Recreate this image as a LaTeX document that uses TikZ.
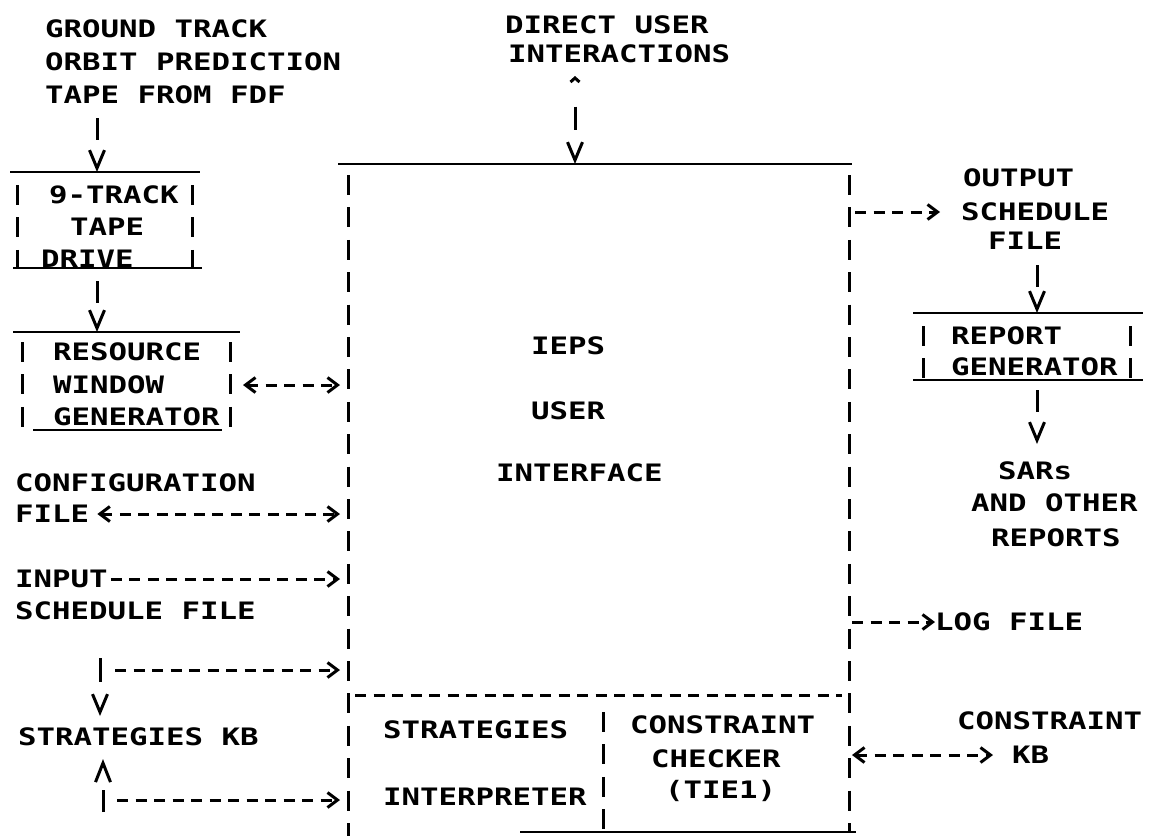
\documentclass[tikz,border=0pt]{standalone}
\usepackage{fontspec}
\newfontfamily\typerfont{DejaVu Sans Mono}[FakeStretch=1.28]
\usetikzlibrary{arrows.meta}

\tikzset{
  lbl/.style={anchor=west, inner sep=0pt, text height=17.5pt, text depth=0pt,
    font=\typerfont\bfseries\fontsize{24}{24}\selectfont},
  rule/.style={line width=2.4pt},
  vside/.style={line width=3pt, dash pattern=on 20pt off 12.4pt},
  hdash/.style={line width=3pt, dash pattern=on 11pt off 7.5pt},
  hto/.style={hdash, -{Straight Barb[length=10pt,width=15pt]}},
  hboth/.style={hdash, {Straight Barb[length=10pt,width=15pt]}-{Straight Barb[length=10pt,width=15pt]}},
  vflow/.style={line width=3pt, dash pattern=on 22pt off 200pt,
    -{Straight Barb[length=18pt,width=15pt]}},
}

\begin{document}
\begin{tikzpicture}[x=1pt,y=-1pt]
  \useasboundingbox (0,0) rectangle (1151,836);

  % main user interface box
  \coordinate (mw) at (340,0);
  \coordinate (me) at (852,0);
  \draw[rule] (338,164) -- (852,164);
  \draw[vside] (348,175) -- (348,836);
  \draw[vside] (849,175) -- (849,832);
  \draw[hdash] (355,695) -- (842,695);
  \draw[vside] (603,712) -- (603,832);
  \draw[rule] (520,832) -- (856,832);
  \node[lbl] (ieps) at (531,346) {IEPS};
  \node[lbl] (user) at (531,411) {USER};
  \node[lbl] (iface) at (496,473) {INTERFACE};
  \node[lbl] (strat) at (383,730) {STRATEGIES};
  \node[lbl] (interp) at (383,797) {INTERPRETER};
  \node[lbl] (cons) at (630,725) {CONSTRAINT};
  \node[lbl] (checker) at (651,759) {CHECKER};
  \node[lbl] (tie) at (665,790) {(TIE1)};

  \node[lbl] (direct) at (505,25) {DIRECT USER};
  \node[lbl] (interact) at (508,54) {INTERACTIONS};
  \coordinate (uin) at (575,76);
  \draw[line width=3pt, dash pattern=on 0pt off 27pt on 23pt off 200pt,
    {Straight Barb[length=4pt,width=9pt]}-{Straight Barb[length=18pt,width=15pt]}]
    (uin) -- (uin |- 0,164);

  % tape drive
  \node[lbl] (gtrack) at (45,29) {GROUND TRACK};
  \node[lbl] (orbit) at (45,62) {ORBIT PREDICTION};
  \node[lbl] (fdf) at (45,95) {TAPE FROM FDF};
  \coordinate (tapein) at (97,118);
  \draw[vflow] (tapein) -- (tapein |- 0,172);
  \draw[rule] (10,172) -- (200,172);
  \draw[vside] (17,185) -- (17,268);
  \draw[vside] (192,185) -- (192,268);
  \draw[rule] (13,268) -- (202,268);
  \node[lbl] (trk) at (49,195) {9-TRACK};
  \node[lbl] (tape) at (70,227) {TAPE};
  \node[lbl] (drive) at (41,259) {DRIVE};

  % resource window generator
  \coordinate (resin) at (97,281);
  \draw[vflow] (resin) -- (resin |- 0,332);
  \draw[rule] (13,332) -- (240,332);
  \draw[vside] (22,342) -- (22,428);
  \draw[vside] (230,342) -- (230,428);
  \draw[rule] (33,430) -- (222,430);
  \node[lbl] (resrc) at (53,352) {RESOURCE};
  \node[lbl] (window) at (53,385) {WINDOW};
  \node[lbl] (gener) at (53,417) {GENERATOR};
  \coordinate (rese) at (243,0);
  \draw[hboth] (rese |- window) -- (mw |- window);

  % files on the left
  \node[lbl] (config) at (15,483) {CONFIGURATION};
  \node[lbl] (cfile) at (15,514) {FILE};
  \draw[hboth] ([xshift=8pt]cfile.east) -- (mw |- cfile);
  \node[lbl] (input) at (15,579) {INPUT};
  \node[lbl] (insched) at (15,611) {SCHEDULE FILE};
  \draw[hto] ([xshift=3pt]input.east) -- (mw |- input);

  % strategies knowledge base
  \node[lbl] (stratkb) at (18,737) {STRATEGIES KB};
  \coordinate (kbup) at (100,670);
  \coordinate (kblo) at (103,800);
  \draw[hto] ([xshift=15pt]kbup) -- (mw |- kbup);
  \draw[vflow, dash pattern=on 24pt off 200pt] ([yshift=12pt]kbup) -- (kbup |- 0,716);
  \draw[hto] ([xshift=14pt]kblo) -- (mw |- kblo);
  \draw[line width=3pt, dash pattern=on 22pt off 200pt,
    -{Straight Barb[length=19pt,width=15pt]}] ([yshift=-12pt]kblo) -- (kblo |- 0,759);

  % outputs on the right
  \node[lbl] (outp) at (963,178) {OUTPUT};
  \node[lbl] (osched) at (961,212) {SCHEDULE};
  \node[lbl] (ofile) at (988,241) {FILE};
  \draw[hto] ([xshift=3pt]me |- osched) -- ([xshift=-21pt]osched.west);
  \coordinate (repin) at (1037,265);
  \draw[vflow] (repin) -- (repin |- 0,313);
  \draw[rule] (913,313) -- (1143,313);
  \draw[vside] (923,326) -- (923,380);
  \draw[vside] (1130,326) -- (1130,380);
  \draw[rule] (913,380) -- (1143,380);
  \node[lbl] (report) at (951,336) {REPORT};
  \node[lbl] (rgen) at (951,367) {GENERATOR};
  \coordinate (sarin) at (1037,390);
  \draw[vflow] (sarin) -- (sarin |- 0,444);
  \node[lbl] (sars) at (998,471) {SARs};
  \node[lbl] (andother) at (971,503) {AND OTHER};
  \node[lbl] (reports) at (991,538) {REPORTS};

  \node[lbl] (logfile) at (935,622) {LOG FILE};
  \draw[hto] (me |- logfile) -- (logfile.west);

  \node[lbl] (conskb) at (957,721) {CONSTRAINT};
  \node[lbl] (kb) at (1012,755) {KB};
  \draw[hboth] (me |- kb) -- ([xshift=-19pt]kb.west);
\end{tikzpicture}
\end{document}
